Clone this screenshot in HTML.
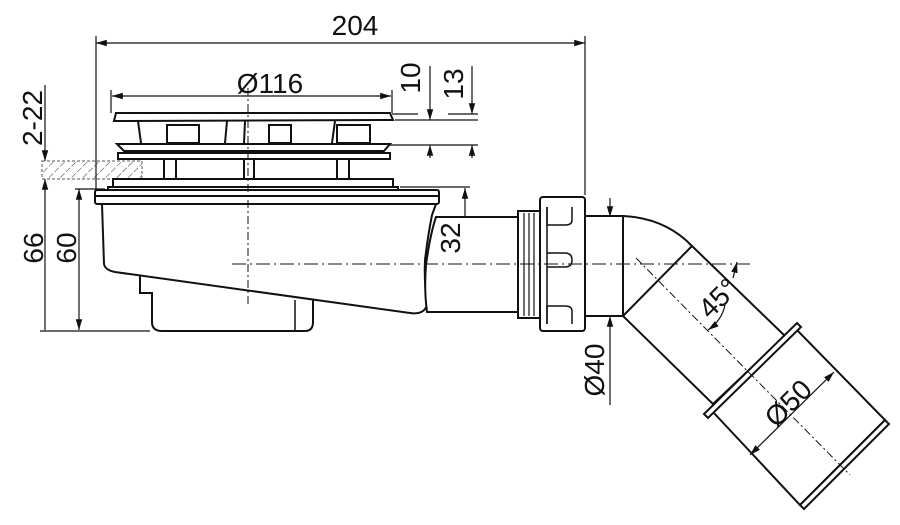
<!DOCTYPE html>
<html><head><meta charset="utf-8"><style>
html,body{margin:0;padding:0;background:#fff;}
svg{display:block}
text{font-family:"Liberation Sans","DejaVu Sans",sans-serif;fill:#111}
</style></head><body>
<svg width="900" height="525" viewBox="0 0 900 525" xmlns="http://www.w3.org/2000/svg">
<defs>
<marker id="a" viewBox="0 0 10 10" refX="10" refY="5" markerWidth="9" markerHeight="9" orient="auto-start-reverse"><path d="M0,2 L10,5 L0,8 z" fill="#111"/></marker>
<pattern id="h" width="8" height="8" patternUnits="userSpaceOnUse" patternTransform="rotate(45)"><line x1="0" y1="0" x2="0" y2="8" stroke="#333" stroke-width="1" stroke-dasharray="3,2"/></pattern>
</defs>
<g stroke="#111" fill="none" stroke-width="1.2">
<line x1="96" y1="43" x2="585" y2="43" marker-start="url(#a)" marker-end="url(#a)"/>
<line x1="96" y1="36" x2="96" y2="190"/>
<line x1="585" y1="36" x2="585" y2="195"/>
<line x1="112" y1="96" x2="391" y2="96" marker-start="url(#a)" marker-end="url(#a)"/>
<line x1="111" y1="90" x2="111" y2="113"/>
<line x1="392" y1="90" x2="392" y2="113"/>
<line x1="392" y1="114" x2="418" y2="114"/>
<line x1="395" y1="120" x2="478" y2="120"/>
<line x1="390" y1="145" x2="478" y2="145"/>
<line x1="430" y1="66" x2="430" y2="120" marker-end="url(#a)"/>
<line x1="430" y1="158" x2="430" y2="145" marker-end="url(#a)"/>
<line x1="472" y1="66" x2="472" y2="114" marker-end="url(#a)"/>
<line x1="472" y1="158" x2="472" y2="145" marker-end="url(#a)"/>
<line x1="448" y1="114" x2="478" y2="114"/>
<line x1="45" y1="85" x2="45" y2="161" marker-end="url(#a)"/>
<line x1="45" y1="330" x2="45" y2="179" marker-end="url(#a)"/>
<line x1="79" y1="189" x2="79" y2="330" marker-start="url(#a)" marker-end="url(#a)"/>
<line x1="75" y1="189" x2="105" y2="189"/>
<line x1="40" y1="331" x2="150" y2="331"/>
<rect x="42" y="161" width="100" height="18" fill="url(#h)" stroke="#555" stroke-dasharray="3,2" stroke-width="1"/>
<line x1="400" y1="187" x2="470" y2="187"/>
<line x1="465" y1="188" x2="465" y2="264" marker-start="url(#a)" marker-end="url(#a)"/>
</g>
<g stroke="#111" fill="#fff" stroke-width="2">
<path d="M116,113 L390,113 L393,120 L114,121 Z"/>
<line x1="138" y1="121" x2="141" y2="143"/>
<line x1="227" y1="121" x2="225" y2="143"/>
<line x1="245" y1="121" x2="244" y2="143"/>
<line x1="335" y1="121" x2="332" y2="143"/>
<rect x="167" y="125" width="32" height="18"/>
<rect x="269" y="125" width="22" height="18"/>
<rect x="337" y="125" width="33" height="18"/>
<path d="M117,144 L390,144 L384,151 L124,151 Z"/>
<rect x="118" y="153" width="272" height="6"/>
<rect x="164" y="159" width="12" height="20"/>
<rect x="244" y="159" width="10" height="20"/>
<rect x="337" y="159" width="12" height="20"/>
<rect x="113" y="179" width="280" height="8"/>
<rect x="108" y="187" width="290" height="3"/>
<rect x="95" y="190" width="344" height="14" rx="2"/>
<line x1="95" y1="196" x2="439" y2="196"/>
<path d="M140,275 L140,293 L152,293 L152,322 Q152,331 162,331 L305,331 Q313,331 313,322 L313,300"/>
<path d="M295,300 L295,331" stroke-width="1.5"/>
<path d="M102,204 L104,264 Q105,270 115,272 L410,313 Q424,315 427,305 Q424,280 425,260 Q428,235 432,215 L436,204 Z"/>
<path d="M436,217 L520,217 L520,312 L427,312 Q424,290 426,265 Q430,235 436,217 Z"/>
<rect x="518" y="211" width="22" height="107"/>
<rect x="540" y="197" width="45" height="134" rx="3"/>
<path d="M547,207 L547,225 L565,225 Q572,225 572,220 L572,207 M547,253 L565,253 Q572,253 572,260 Q572,267 565,267 L547,267 M547,324 L547,306 L565,306 Q572,306 572,311 L572,324" fill="none" stroke-width="1.5"/>
<line x1="547" y1="207" x2="547" y2="324" stroke-width="1.5"/>
<rect x="585" y="216" width="38" height="100"/>
<path d="M623,216 Q665,218 692,246 L785,336 L713,404 L623,316 Z"/>
<line x1="623" y1="316" x2="692" y2="246"/>
<path d="M713,412 L800,505 L885,420 L797,330 Z"/>
<path d="M704,414 L797,323 L801,327 L708,418 Z"/>
<path d="M800,505 L885,420 L889,424 L804,509 Z"/>
</g>
<g stroke="#111" stroke-width="1.2" fill="none">
<line x1="232" y1="264" x2="750" y2="264" stroke-dasharray="14,4,2,4" stroke-width="1"/>
<line x1="248" y1="88" x2="248" y2="305" stroke-dasharray="8,3,2,3" stroke-width="1"/>
<line x1="636" y1="258" x2="850" y2="475" stroke-dasharray="8,3,2,3" stroke-width="1"/>
<line x1="524" y1="213" x2="524" y2="316"/><line x1="529" y1="213" x2="529" y2="316"/><line x1="534" y1="213" x2="534" y2="316"/>
<line x1="610" y1="198" x2="610" y2="217" marker-end="url(#a)"/>
<line x1="610" y1="405" x2="610" y2="316" marker-end="url(#a)"/>
<line x1="750" y1="455" x2="834" y2="372" marker-start="url(#a)" marker-end="url(#a)"/>
<path d="M708,330 Q722,320 725,305" marker-start="url(#a)"/>
<path d="M733,278 L737,262" marker-end="url(#a)"/>
</g>
<g font-size="28">
<text x="355" y="35" text-anchor="middle">204</text>
<text x="270" y="93" text-anchor="middle">Ø116</text>
<text transform="translate(420,78) rotate(-90)" text-anchor="middle">10</text>
<text transform="translate(463,84) rotate(-90)" text-anchor="middle">13</text>
<text transform="translate(42,118) rotate(-90)" text-anchor="middle">2-22</text>
<text transform="translate(43,248) rotate(-90)" text-anchor="middle">66</text>
<text transform="translate(76,248) rotate(-90)" text-anchor="middle">60</text>
<text transform="translate(460,238) rotate(-90)" text-anchor="middle">32</text>
<text transform="translate(604,370) rotate(-90)" text-anchor="middle">Ø40</text>
<text transform="translate(725,305) rotate(-45)" text-anchor="middle">45°</text>
<text transform="translate(795,410) rotate(-45)" text-anchor="middle">Ø50</text>
</g>
</svg>
</body></html>
